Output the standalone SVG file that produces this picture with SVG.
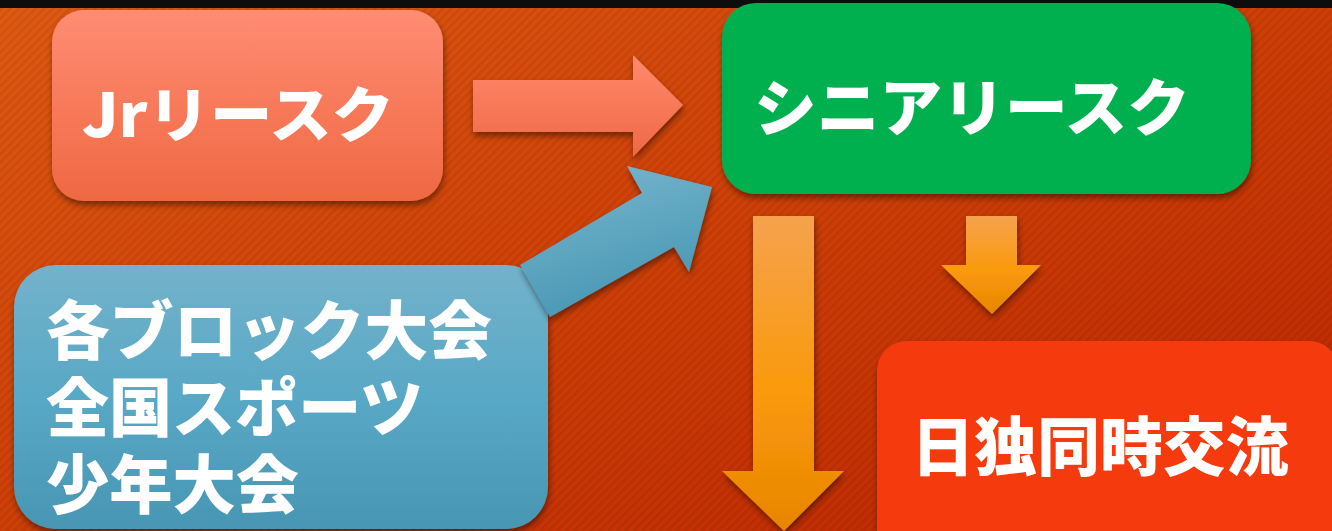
<svg xmlns="http://www.w3.org/2000/svg" width="1332" height="531" viewBox="0 0 1332 531">
<style>
.lbl{font-family:"Noto Sans CJK JP","Noto Sans",sans-serif;font-weight:900;fill:#fff;dominant-baseline:central}
</style>
<defs>
<linearGradient id="bg" x1="0" y1="0" x2="1" y2="1">
<stop offset="0" stop-color="#df5a12"/>
<stop offset="0.55" stop-color="#cc3c06"/>
<stop offset="1" stop-color="#bb2400"/>
</linearGradient>
<pattern id="stripes" width="6" height="6" patternUnits="userSpaceOnUse" patternTransform="rotate(45)">
<rect width="2.5" height="6" fill="#000" opacity="0.07"/>
</pattern>
<linearGradient id="gJr" x1="0" y1="0" x2="0" y2="1">
<stop offset="0" stop-color="#ff8c73"/>
<stop offset="1" stop-color="#ef6842"/>
</linearGradient>
<linearGradient id="gSal" x1="0" y1="0" x2="0" y2="1">
<stop offset="0" stop-color="#ff8a6c"/>
<stop offset="1" stop-color="#ef6846"/>
</linearGradient>
<linearGradient id="gBlue" x1="0" y1="0" x2="0" y2="1">
<stop offset="0" stop-color="#74b2ca"/>
<stop offset="0.5" stop-color="#58a8c6"/>
<stop offset="1" stop-color="#4896b3"/>
</linearGradient>
<linearGradient id="gBlueA" gradientUnits="userSpaceOnUse" x1="600" y1="170" x2="640" y2="300">
<stop offset="0" stop-color="#74b2ca"/>
<stop offset="1" stop-color="#4898b5"/>
</linearGradient>
<linearGradient id="gOr" x1="0" y1="0" x2="0" y2="1">
<stop offset="0" stop-color="#f5a24e"/>
<stop offset="0.55" stop-color="#fa9a0c"/>
<stop offset="1" stop-color="#e88500"/>
</linearGradient>
<filter id="sh" x="-10%" y="-10%" width="125%" height="130%">
<feDropShadow dx="1" dy="4" stdDeviation="3" flood-color="#000" flood-opacity="0.45"/>
</filter>
</defs>

<rect width="1332" height="531" fill="url(#bg)"/>
<rect width="1332" height="531" fill="url(#stripes)"/>
<rect width="1332" height="8" fill="#0d0d0d"/>

<g id="connectors" filter="url(#sh)">
<polygon id="arrow-jr" points="473,80 633,80 633,55 683,105 633,157 633,132 473,132" fill="url(#gSal)"/>
<polygon id="arrow-down-big" points="753,216 814,216 814,471 844,471 784,531 722,471 753,471" fill="url(#gOr)"/>
<polygon id="arrow-down-small" points="966,216 1017,216 1017,265 1041,265 992,314 941,265 966,265" fill="url(#gOr)"/>
</g>

<g id="node-jr">
<rect x="52" y="10" width="391" height="191" rx="32" fill="url(#gJr)" filter="url(#sh)"/>
<text class="lbl" x="238" y="110" font-size="60" text-anchor="middle" textLength="312" lengthAdjust="spacingAndGlyphs">Jrリースク</text>
</g>

<g id="node-senior">
<rect x="722" y="3" width="529" height="191" rx="34" fill="#00b050" filter="url(#sh)"/>
<text class="lbl" x="972" y="104" font-size="62" text-anchor="middle" textLength="436" lengthAdjust="spacingAndGlyphs">シニアリースク</text>
</g>

<g id="node-block">
<rect x="14" y="265" width="534" height="264" rx="42" fill="url(#gBlue)" filter="url(#sh)"/>
<text class="lbl" x="46" y="326" font-size="64" textLength="446" lengthAdjust="spacingAndGlyphs">各ブロック大会</text>
<text class="lbl" x="46" y="403" font-size="64" textLength="377" lengthAdjust="spacingAndGlyphs">全国スポーツ</text>
<text class="lbl" x="46" y="480" font-size="64" textLength="253" lengthAdjust="spacingAndGlyphs">少年大会</text>
</g>

<g id="connector-block" filter="url(#sh)">
<polygon points="520,265 642,193 627,166 712,187 689,272 674,247 550,317" fill="url(#gBlueA)"/>
</g>

<g id="node-exchange">
<rect x="877" y="341" width="462" height="220" rx="30" fill="#f53b0b" filter="url(#sh)"/>
<text class="lbl" x="1100" y="442" font-size="64" text-anchor="middle" textLength="377" lengthAdjust="spacingAndGlyphs">日独同時交流</text>
</g>
</svg>
